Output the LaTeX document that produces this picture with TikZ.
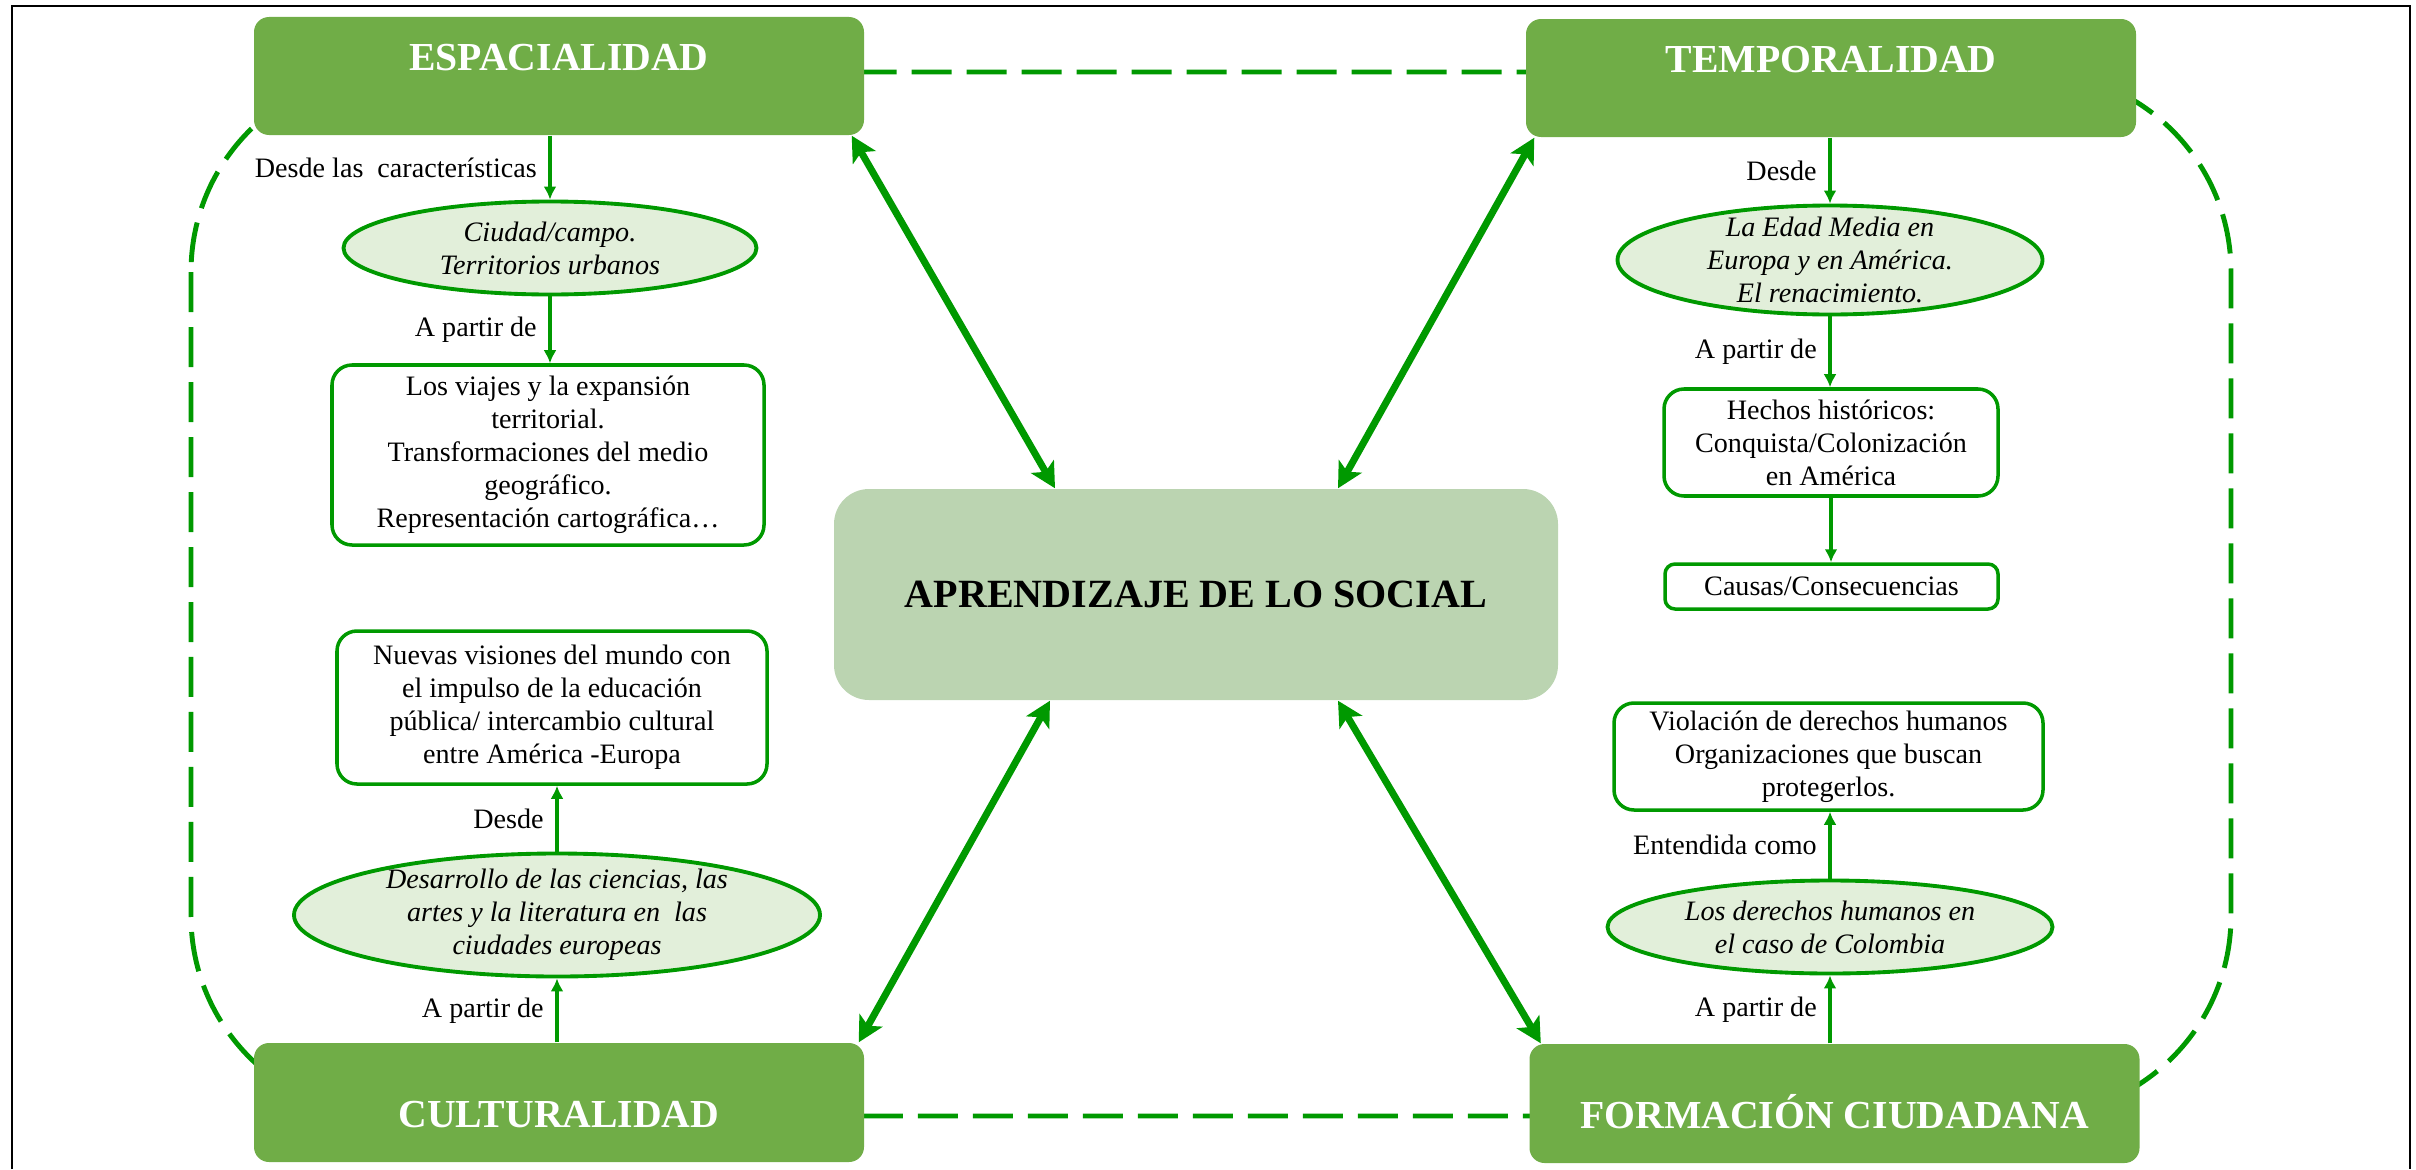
\documentclass[tikz,border=0pt]{standalone}
\usepackage{fontspec}
\setmainfont{Liberation Serif}
\usetikzlibrary{shapes.geometric,arrows.meta}
\definecolor{headgreen}{RGB}{112,173,71}
\definecolor{coregreen}{RGB}{187,212,177}
\definecolor{palegreen}{RGB}{226,239,218}
\definecolor{linegreen}{RGB}{0,153,0}
\begin{document}
\begin{tikzpicture}[
  head/.style={rounded corners=0.15cm, fill=headgreen, text=white, font=\fontsize{11.3}{13}\selectfont\bfseries, minimum width=6.1cm, inner sep=0pt, anchor=base},
  headtop/.style={head, text height=0.53cm, text depth=0.65cm},
  headbot/.style={head, text height=0.84cm, text depth=0.35cm},
  oval/.style={ellipse, draw=linegreen, line width=1.1pt, fill=palegreen, font=\fontsize{8}{9.4}\selectfont\itshape, align=center, inner xsep=0pt, inner ysep=-0.2cm},
  card/.style={rounded corners=0.2cm, draw=linegreen, line width=1pt, fill=white, font=\fontsize{8}{9.4}\selectfont, align=center, inner sep=0pt},
  link/.style={linegreen, line width=0.9pt, -{Latex[length=0.13cm,width=0.13cm]}},
  cue/.style={font=\fontsize{8}{9.4}\selectfont, text=black, midway, left},
  bond/.style={linegreen, line width=2pt, {Stealth[length=0.25cm,width=0.26cm,inset=0.06cm]}-{Stealth[length=0.25cm,width=0.26cm,inset=0.06cm]}}
]
\useasboundingbox (0,0) rectangle (24.16,-11.69);
\draw[line width=0.35pt] (1.75,-0.06) -- (22.47,-0.06);
\draw[line width=0.6pt] (0.12,-11.69) -- (0.12,-0.06) -- (1.75,-0.06);
\draw[line width=0.6pt] (22.47,-0.06) -- (24.10,-0.06) -- (24.10,-11.69);
\draw[linegreen, line width=1.4pt, dash pattern=on 0.4cm off 0.15cm, rounded corners=2cm] (1.91,-0.72) rectangle (22.31,-11.16);

\node[headtop] (esp) at (5.59,-0.70) {ESPACIALIDAD};
\node[headtop] (temp) at (18.31,-0.72) {TEMPORALIDAD};
\node[headbot] (cult) at (5.59,-11.27) {CULTURALIDAD};
\node[headbot] (form) at (18.345,-11.28) {FORMACIÓN CIUDADANA};
\node[rounded corners=0.35cm, fill=coregreen, minimum width=7.24cm, minimum height=2.11cm, font=\fontsize{11.4}{13}\selectfont\bfseries] (core) at (11.96,-5.945) {APRENDIZAJE DE LO SOCIAL};

\node[oval, minimum width=4.13cm, minimum height=0.93cm] (e1) at (5.50,-2.48) {Ciudad/campo.\\Territorios urbanos};
\node[oval, minimum width=5.26cm, minimum height=1.23cm] (e2) at (5.57,-9.15) {Desarrollo de las ciencias, las\\artes y la literatura en\ \ las\\ciudades europeas};
\node[oval, minimum width=4.25cm, minimum height=1.09cm] (e3) at (18.30,-2.60) {La Edad Media en\\Europa y en América.\\El renacimiento.};
\node[oval, minimum width=4.45cm, minimum height=0.93cm] (e4) at (18.30,-9.27) {Los derechos humanos en\\el caso de Colombia};

\node[card, minimum width=4.32cm, minimum height=1.80cm] (b1) at (5.48,-4.55) {Los viajes y la expansión\\territorial.\\Transformaciones del medio\\geográfico.\\Representación cartográfica\ldots};
\node[card, minimum width=4.30cm, minimum height=1.53cm] (b2) at (5.52,-7.075) {Nuevas visiones del mundo con\\el impulso de la educación\\pública/ intercambio cultural\\entre América -Europa};
\node[card, minimum width=3.34cm, minimum height=1.07cm] (b3) at (18.31,-4.425) {Hechos históricos:\\Conquista/Colonización\\en América};
\node[card, rounded corners=0.1cm, minimum width=3.33cm, minimum height=0.45cm] (b4) at (18.315,-5.865) {Causas/Consecuencias};
\node[card, minimum width=4.29cm, minimum height=1.07cm] (b5) at (18.285,-7.565) {Violación de derechos humanos\\Organizaciones que buscan\\protegerlos.};

\draw[link] (e1.north |- esp.south) -- (e1.north) node[cue] {Desde las\ \ características};
\draw[link] (e1.south) -- (e1.south |- b1.north) node[cue] {A partir de};
\draw[link] (e2.south |- cult.north) -- (e2.south) node[cue] {A partir de};
\draw[link] (e2.north) -- (e2.north |- b2.south) node[cue] {Desde};
\draw[link] (e3.north |- temp.south) -- (e3.north) node[cue] {Desde};
\draw[link] (e3.south) -- (e3.south |- b3.north) node[cue] {A partir de};
\draw[link] (b3.south) -- (b3.south |- b4.north);
\draw[link] (e4.south |- form.north) -- (e4.south) node[cue] {A partir de};
\draw[link] (e4.north) -- (e4.north |- b5.south) node[cue] {Entendida como};

\draw[bond] ([xshift=-0.13cm]esp.south east) -- ([xshift=-1.41cm]core.north);
\draw[bond] ([xshift=0.09cm]temp.south west) -- ([xshift=1.42cm]core.north);
\draw[bond] ([xshift=-0.06cm]cult.north east) -- ([xshift=-1.46cm]core.south);
\draw[bond] ([xshift=0.12cm]form.north west) -- ([xshift=1.42cm]core.south);
\end{tikzpicture}
\end{document}
